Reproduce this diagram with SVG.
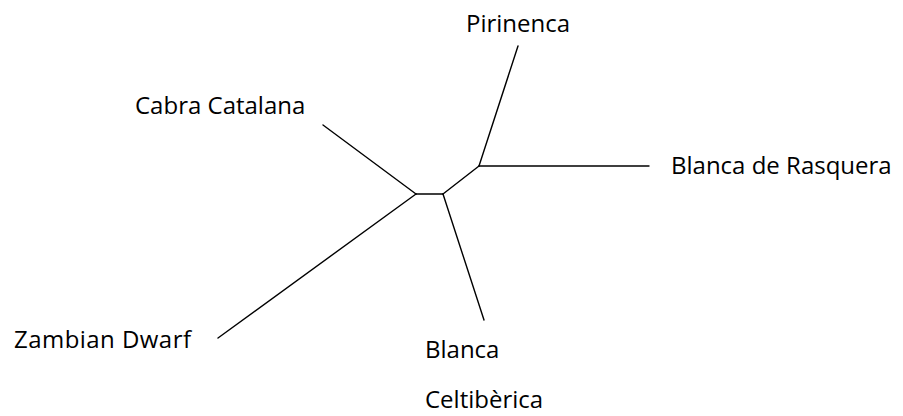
<svg xmlns="http://www.w3.org/2000/svg" width="903" height="416" viewBox="0 0 903 416">
<style>
.lbl{font-family:"Open Sans","Liberation Sans",sans-serif;font-size:24px;fill:#000}
.edge{stroke:#000;stroke-width:1.4;fill:none;stroke-linecap:round;stroke-linejoin:round}
</style>
<rect width="903" height="416" fill="#fff"/>
<g id="connectors">
<line class="edge" x1="518" y1="46" x2="479" y2="166"/>
<line class="edge" x1="479" y1="166" x2="649" y2="166"/>
<line class="edge" x1="479" y1="166" x2="443" y2="194"/>
<line class="edge" x1="443" y1="194" x2="416" y2="194"/>
<line class="edge" x1="416" y1="194" x2="323" y2="125"/>
<line class="edge" x1="416" y1="194" x2="218" y2="338"/>
<line class="edge" x1="443" y1="194" x2="484" y2="320"/>
</g>
<g id="pirinenca"><text class="lbl" x="466" y="32">Pirinenca</text></g>
<g id="blanca-de-rasquera"><text class="lbl" x="671" y="174">Blanca de Rasquera</text></g>
<g id="cabra-catalana"><text class="lbl" x="135" y="114">Cabra Catalana</text></g>
<g id="zambian-dwarf"><text class="lbl" x="14" y="348" textLength="177" lengthAdjust="spacing">Zambian Dwarf</text></g>
<g id="blanca-celtiberica"><text class="lbl" x="425" y="358">Blanca</text><text class="lbl" x="425" y="408">Celtibèrica</text></g>
</svg>
